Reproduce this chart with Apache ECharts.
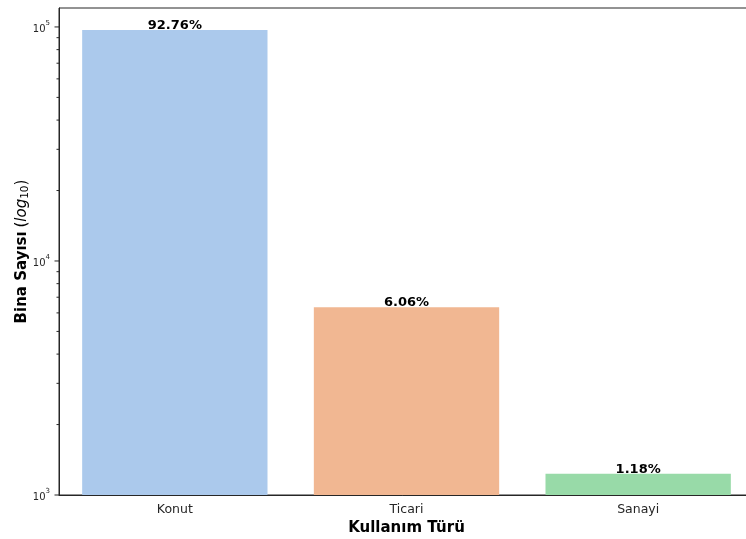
<!DOCTYPE html>
<html>
<head>
<meta charset="utf-8">
<script src="https://cdn.jsdelivr.net/npm/echarts@6/dist/echarts.min.js"></script>
<style>
  html, body { margin: 0; padding: 0; background: #ffffff; }
  #chart { width: 746px; height: 539px; }
</style>
</head>
<body>
<div id="chart"></div>
<script>
// Building counts by usage type (log scale)
const categories = ['Konut', 'Ticari', 'Sanayi'];
const counts = [97000, 6337, 1234];

// Tick positions for the log axis
const majorTicks = [1000, 10000, 100000];
const minorTicks = [2000, 3000, 4000, 5000, 6000, 7000, 8000, 9000,
                    20000, 30000, 40000, 50000, 60000, 70000, 80000, 90000];

const palette = ['#abc9ec', '#f1b792', '#98daa8'];
const ink = '#262626';
const font = 'DejaVu Sans';

const total = counts.reduce((a, b) => a + b, 0);
const shares = counts.map(v => (v / total * 100).toFixed(2) + '%');

const chart = echarts.init(document.getElementById('chart'), null, { renderer: 'canvas' });

function tickSeries(values, len) {
  return {
    type: 'custom',
    silent: true,
    clip: false,
    z: 5,
    data: values.map(v => [0, v]),
    encode: { x: 0, y: 1 },
    renderItem: function (params, api) {
      const p = api.coord([0, api.value(1)]);
      const x0 = params.coordSys.x;
      return {
        type: 'line',
        shape: { x1: x0 - len, y1: p[1], x2: x0, y2: p[1] },
        style: { stroke: ink, lineWidth: 1 }
      };
    }
  };
}

chart.setOption({
  animation: false,
  backgroundColor: '#ffffff',
  grid: {
    left: 59, top: 8, right: -8, bottom: 44,
    containLabel: false,
    outerBoundsMode: 'none',
    show: true, borderColor: ink, borderWidth: 1, backgroundColor: '#ffffff'
  },
  xAxis: {
    type: 'category',
    data: categories,
    name: 'Kullanım Türü',
    nameLocation: 'middle',
    nameGap: 26,
    nameMoveOverlap: false,
    nameTextStyle: { fontFamily: font, fontWeight: 'bold', fontSize: 15, color: '#000' },
    axisLine: { lineStyle: { color: ink, width: 1 } },
    axisTick: { alignWithLabel: true, length: 4, lineStyle: { color: ink } },
    axisLabel: { fontFamily: font, fontSize: 12.5, color: ink, margin: 8 },
    splitLine: { show: false }
  },
  yAxis: {
    type: 'log',
    logBase: 10,
    min: 1000,
    max: 120500,
    name: '{b|Bina Sayısı} {p|(}{i|log}{sub|10}{p|)}',
    nameLocation: 'middle',
    nameGap: 28,
    nameRotate: 90,
    nameMoveOverlap: false,
    nameTextStyle: {
      fontFamily: font, color: '#000',
      rich: {
        b: { fontFamily: font, fontWeight: 'bold', fontSize: 15, lineHeight: 18, color: '#000' },
        p: { fontFamily: font, fontSize: 15, lineHeight: 18, color: '#000' },
        i: { fontFamily: font, fontStyle: 'italic', fontSize: 15, lineHeight: 18, color: '#000' },
        sub: { fontFamily: font, fontSize: 10.5, lineHeight: 10, verticalAlign: 'bottom', color: '#000' }
      }
    },
    axisLine: { show: true, lineStyle: { color: ink, width: 1 } },
    axisTick: { show: false },
    minorTick: { show: false },
    splitLine: { show: false },
    axisLabel: {
      margin: 9,
      formatter: function (v) {
        const e = Math.log10(v);
        const r = Math.round(e);
        if (Math.abs(e - r) > 1e-6) return '';
        return '{b|10}{s|' + r + '}';
      },
      rich: {
        b: { fontFamily: font, fontSize: 10, lineHeight: 14, verticalAlign: 'bottom', color: ink },
        s: { fontFamily: font, fontSize: 7, lineHeight: 8, verticalAlign: 'top', color: ink }
      }
    }
  },
  series: [
    {
      type: 'bar',
      data: counts.map((v, i) => ({ value: v, itemStyle: { color: palette[i] } })),
      barCategoryGap: '20%',
      label: {
        show: true,
        position: 'top',
        distance: -2,
        formatter: p => shares[p.dataIndex],
        fontFamily: font,
        fontWeight: 'bold',
        fontSize: 13,
        color: '#000'
      }
    },
    tickSeries(majorTicks, 4.5),
    tickSeries(minorTicks, 2.5)
  ]
});
</script>
</body>
</html>
